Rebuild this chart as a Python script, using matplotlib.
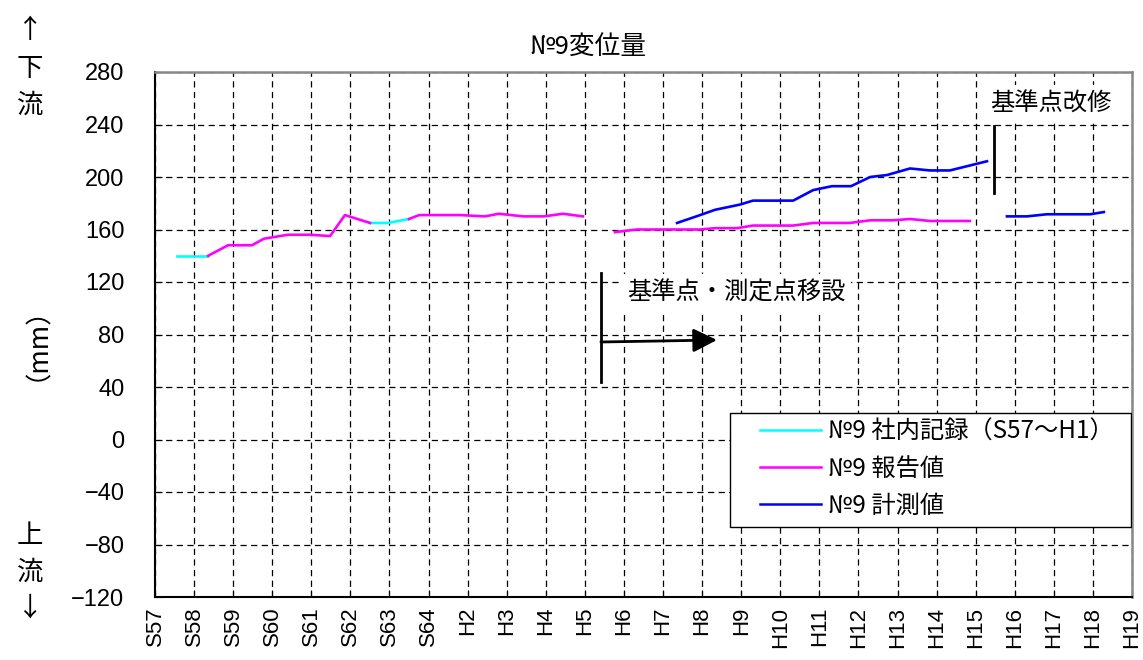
import matplotlib
matplotlib.use("Agg")
import matplotlib.pyplot as plt
from matplotlib.patches import Rectangle
from matplotlib.lines import Line2D
import numpy as np

plt.rcParams['font.family'] = ['Noto Sans CJK JP', 'DejaVu Sans']
plt.rcParams['ytick.major.pad'] = 22

# ---- data ----
tick_labels = ["S57", "S58", "S59", "S60", "S61", "S62", "S63", "S64",
               "H2", "H3", "H4", "H5", "H6", "H7", "H8", "H9", "H10",
               "H11", "H12", "H13", "H14", "H15", "H16", "H17", "H18", "H19"]
y_ticks = list(range(-120, 281, 40))

# No.9 社内記録 (cyan), two pieces
cyan_x1 = [0.56, 1.36]
cyan_y1 = [140, 140]
cyan_x2 = [5.50, 5.96, 6.50]
cyan_y2 = [165, 165, 168]

# No.9 報告値 (magenta)
mag_x1 = [1.36, 1.87, 2.48, 2.79, 3.40, 3.97, 4.48, 4.86, 5.50]
mag_y1 = [140, 148, 148, 153, 156, 156, 155, 171, 165]
mag_x2 = [6.50, 6.76, 7.80, 8.44, 8.80, 9.42, 9.95, 10.44, 10.95]
mag_y2 = [168, 171, 171, 170, 172, 170, 170, 172, 170]
mag_x3 = [11.77, 12.33, 13.95, 14.33, 14.89, 15.30, 16.33, 16.84, 17.78,
          18.30, 18.88, 19.32, 19.83, 20.85]
mag_y3 = [158, 160, 160, 161, 161, 163, 163, 165, 165, 167, 167, 168, 166.5, 166.5]

# No.9 計測値 (blue)
blue_x1 = [13.36, 13.95, 14.33, 14.97, 15.30, 16.33, 16.84, 17.32, 17.81,
           18.30, 18.73, 19.32, 19.83, 20.34, 21.29]
blue_y1 = [165, 171, 175, 179, 182, 182, 190, 193, 193, 200, 201.5, 206.5, 205, 205, 212]
blue_x2 = [21.80, 22.31, 22.82, 23.93, 24.28]
blue_y2 = [170, 170, 171.6, 171.6, 173.3]

legend_labels = ["№9 社内記録（S57～H1）", "№9 報告値", "№9 計測値"]
colors = ["#00FFFF", "#FF00FF", "#0000FF"]

# ---- figure ----
W, H = 1143, 660
fig = plt.figure(figsize=(W / 100, H / 100), dpi=100)
ax = fig.add_axes([155 / W, 1 - 597 / H, (1132 - 155) / W, (597 - 72) / H])

lw = 1.9
ax.plot(cyan_x1, cyan_y1, color=colors[0], lw=lw, zorder=3)
ax.plot(cyan_x2, cyan_y2, color=colors[0], lw=lw, zorder=3)
ax.plot(mag_x1, mag_y1, color=colors[1], lw=lw, zorder=3)
ax.plot(mag_x2, mag_y2, color=colors[1], lw=lw, zorder=3)
ax.plot(mag_x3, mag_y3, color=colors[1], lw=lw, zorder=3)
ax.plot(blue_x1, blue_y1, color=colors[2], lw=lw, zorder=3)
ax.plot(blue_x2, blue_y2, color=colors[2], lw=lw, zorder=3)

ax.set_xlim(0, len(tick_labels) - 1)
ax.set_ylim(-120, 280)
ax.set_yticks(y_ticks)
ax.set_xticks(np.arange(len(tick_labels)))
ax.set_xticklabels(tick_labels, rotation=90, fontsize=16, family='Liberation Sans')
ax.set_yticklabels([f"{v:d}".replace("-", "\u2212") for v in y_ticks],
                   fontsize=17, family='Liberation Sans')
ax.tick_params(axis='y', direction='in', length=5, pad=22)
ax.tick_params(axis='x', direction='in', length=5, pad=7)

ax.grid(True, color='black', linestyle=(0, (5, 3.5)), linewidth=0.9, zorder=1)
ax.set_axisbelow(True)
for s in ['left', 'bottom']:
    ax.spines[s].set_color('black')
    ax.spines[s].set_linewidth(1.5)
for s in ['top', 'right']:
    ax.spines[s].set_color('#888888')
    ax.spines[s].set_linewidth(1.8)

# annotations
ax.plot([21.47, 21.47], [239, 188], color='black', lw=2, zorder=4)
ax.text(22.93, 255.6, "基準点改修", fontsize=17.5, ha='center', va='center', zorder=5,
        bbox=dict(facecolor='white', edgecolor='none', pad=4))
ax.plot([11.41, 11.41], [127, 44], color='black', lw=2, zorder=4)
ax.annotate("", xy=(14.38, 75.8), xytext=(11.41, 74.3),
            arrowprops=dict(arrowstyle="-|>,head_length=1.45,head_width=0.72",
                            color='black', lw=2, shrinkA=0, shrinkB=0), zorder=4)
ax.text(14.87, 111.6, "基準点・測定点移設", fontsize=17.5, ha='center', va='center', zorder=5,
        bbox=dict(facecolor='white', edgecolor='none', pad=4))

# legend
ax.add_patch(Rectangle((0.5885, 0.1333), 0.4105, 0.2172, transform=ax.transAxes,
                       facecolor='white', edgecolor='black', lw=1, zorder=6))
handles = [Line2D([], [], color=c, lw=1.8) for c in colors]
leg = ax.legend(handles, legend_labels, loc='upper left',
                bbox_to_anchor=((760 - 155) / 977, (597 - 419) / 525),
                frameon=False, borderpad=0, borderaxespad=0, fontsize=17.5,
                handlelength=2.5, handletextpad=0.3, labelspacing=0.45)
leg.set_zorder(7)

# titles / side labels
fig.text(588 / W, 1 - 47 / H, "№9変位量", fontsize=18.5, ha='center', va='center')
fig.text(30 / W, 1 - 68 / H, "↑\n下\n流", fontsize=19, ha='center', va='center',
         linespacing=1.5)
fig.text(30 / W, 1 - 572 / H, "上\n流\n↓", fontsize=19, ha='center', va='center',
         linespacing=1.45)
fig.text(24 / W, 1 - 330 / H, "（mm）", fontsize=19, ha='center', va='center',
         rotation=90)

fig.savefig("out.png", dpi=100)
